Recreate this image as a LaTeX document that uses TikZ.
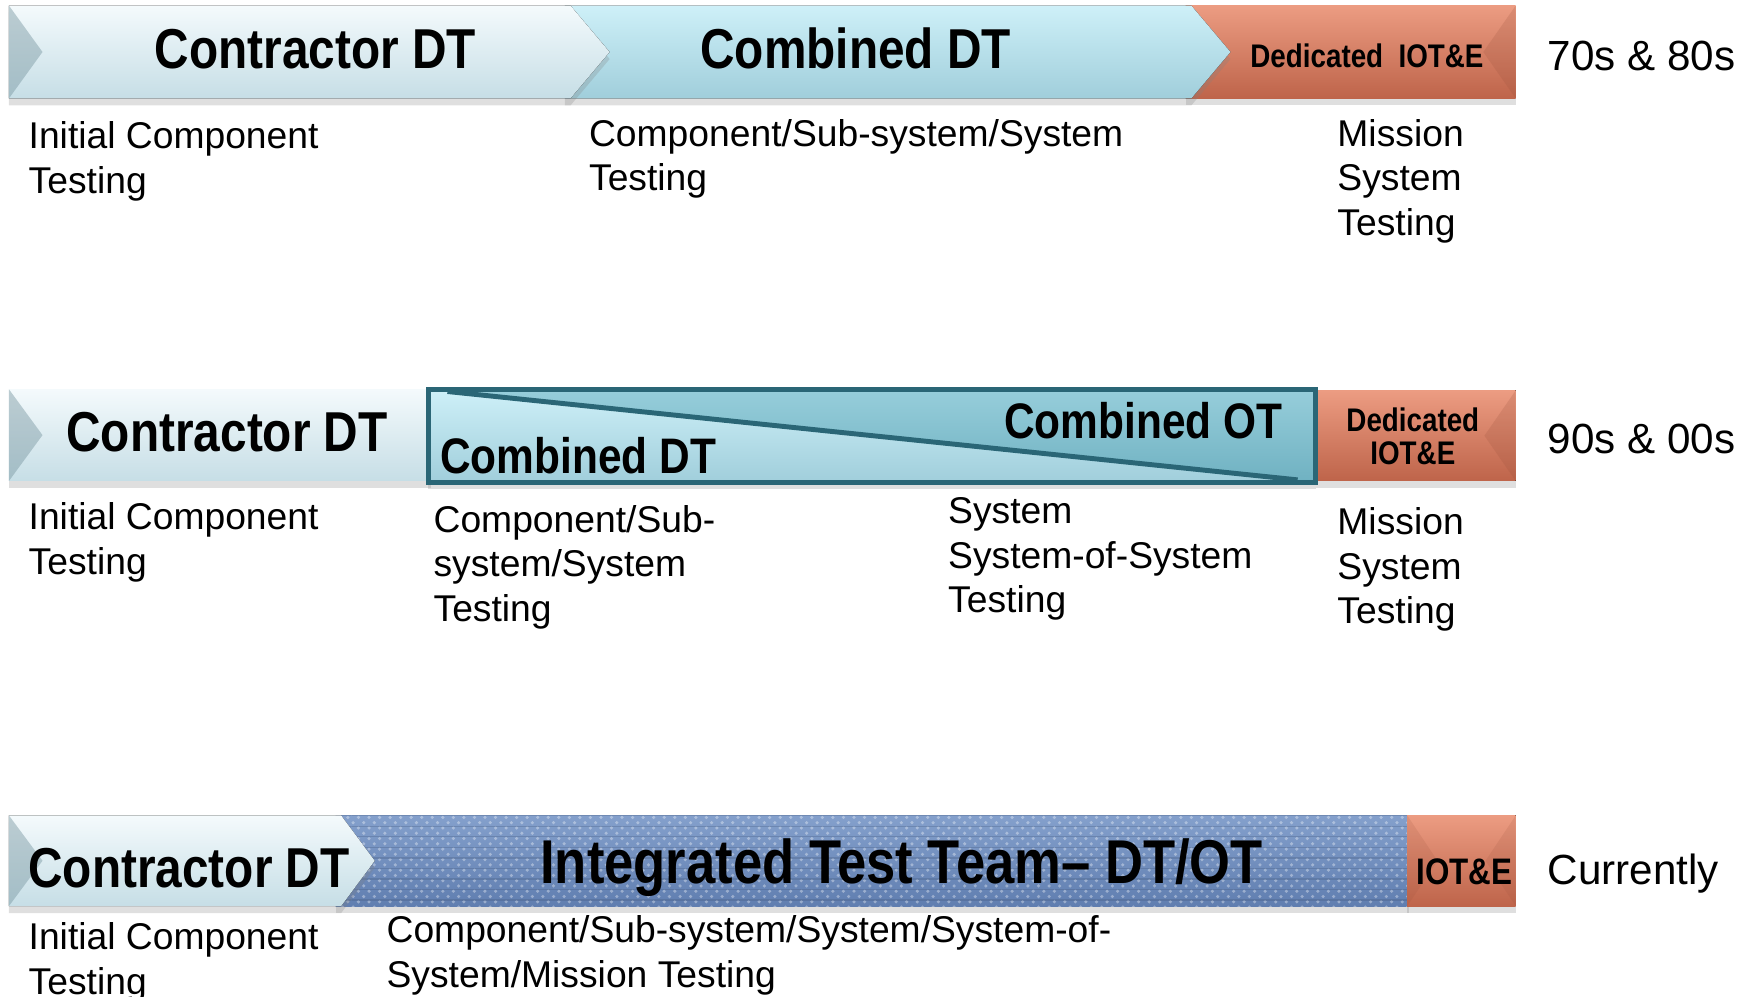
\documentclass[tikz,border=0pt]{standalone}
\usepackage{fontspec}
\setmainfont{Liberation Sans}
\newfontfamily\barfont[FakeStretch=0.85]{Liberation Sans}
\usetikzlibrary{shadows, patterns, positioning}
\definecolor{ctrtop}{RGB}{244,250,252}
\definecolor{ctrbot}{RGB}{198,222,230}
\definecolor{combtop}{RGB}{206,240,248}
\definecolor{combbot}{RGB}{160,206,219}
\definecolor{dedtop}{RGB}{236,156,130}
\definecolor{dedbot}{RGB}{190,100,74}
\definecolor{tealedge}{RGB}{42,102,118}
\definecolor{ottop}{RGB}{150,205,218}
\definecolor{otbot}{RGB}{112,178,194}
\definecolor{inttop}{RGB}{132,160,204}
\definecolor{intbot}{RGB}{96,126,176}
\definecolor{bevel}{RGB}{120,150,160}
\tikzstyle{ctrbar} = [top color=ctrtop, bottom color=ctrbot, drop shadow={shadow xshift=0pt, shadow yshift=-2pt, opacity=.25}]
\tikzstyle{combbar} = [top color=combtop, bottom color=combbot, drop shadow={shadow xshift=0pt, shadow yshift=-2pt, opacity=.25}]
\tikzstyle{dedbar} = [top color=dedtop, bottom color=dedbot, drop shadow={shadow xshift=0pt, shadow yshift=-2pt, opacity=.25}]
\tikzstyle{bartext} = [anchor=base, inner sep=0pt, font=\barfont\bfseries\fontsize{16}{19}\selectfont]
\tikzstyle{combtext} = [inner sep=0pt, font=\barfont\bfseries\fontsize{14.2}{17}\selectfont]
\tikzstyle{dedtext} = [inner sep=0pt, font=\barfont\bfseries\fontsize{9.3}{9.6}\selectfont]
\tikzstyle{note} = [anchor=north west, inner sep=0pt, align=left, font=\fontsize{10.6}{12.7}\selectfont]
\tikzstyle{era} = [anchor=north west, inner sep=0pt, font=\fontsize{12}{14}\selectfont]

\begin{document}
\begin{tikzpicture}[x=0.3183pt, y=-0.3183pt]
\useasboundingbox (0,0) rectangle (1568,891);

% 70s & 80s
\fill[dedbar] (1060,5) rectangle (1355,88);
\fill[dedbot!80!black, opacity=.2] (1355,5) -- (1326,46.5) -- (1355,88) -- cycle;
\fill[combbar] (505,5) -- (1065,5) -- (1100,46.5) -- (1065,88) -- (505,88) -- cycle;
\fill[ctrbar] (8,5) -- (510,5) -- (545,46.5) -- (510,88) -- (8,88) -- cycle;
\fill[bevel, opacity=.45] (8,5) -- (38,46.5) -- (8,88) -- cycle;
\node (ctr1) [bartext] at (282,61) {Contractor DT};
\node (comb1) [bartext] at (765,61) {Combined DT};
\node (ded1) [dedtext, anchor=base] at (1222,60.5) {Dedicated~~IOT\&E};
\node (era1) [era] at (1383,36.5) {70s \& 80s};
\node (init1) [note] at (25,108) {Initial Component\\Testing};
\node (sub1) [note] at (526,106) {Component/Sub-system/System\\Testing};
\node (mis1) [note] at (1195,106) {Mission\\System\\Testing};

% 90s & 00s
\fill[dedbar] (1176,349) rectangle (1355,430);
\fill[dedbot!80!black, opacity=.2] (1355,349) -- (1327,389.5) -- (1355,430) -- cycle;
\fill[ctrbar] (8,348) rectangle (385,430);
\fill[bevel, opacity=.45] (8,348) -- (38,389) -- (8,430) -- cycle;
\fill[top color=combtop, bottom color=combbot, drop shadow={shadow xshift=0pt, shadow yshift=-2pt, opacity=.25}] (383,348) rectangle (1176,431);
\fill[top color=ottop, bottom color=otbot] (400,350) -- (1174,350) -- (1174,429) -- (1160,429) -- cycle;
\draw[tealedge, line width=1.4pt] (400,350) -- (1160,429);
\draw[tealedge, line width=1.4pt] (383,348) rectangle (1176,431);
\node (ctr2) [bartext] at (203,404) {Contractor DT};
\node (cot2) [combtext, anchor=base east] at (1147,392) {Combined OT};
\node (cdt2) [combtext, anchor=base west] at (393,423) {Combined DT};
\node (ded2) [dedtext, align=center] at (1263,390) {Dedicated\\IOT\&E};
\node (era2) [era] at (1383,378.5) {90s \& 00s};
\node (init2) [note] at (25,449) {Initial Component\\Testing};
\node (sub2) [note] at (387,451) {Component/Sub-\\system/System\\Testing};
\node (sos2) [note] at (847,444) {System\\System-of-System\\Testing};
\node (mis2) [note] at (1195,453) {Mission\\System\\Testing};

% Currently
\fill[top color=inttop, bottom color=intbot, drop shadow={shadow xshift=0pt, shadow yshift=-2pt, opacity=.25}] (300,729) rectangle (1260,810);
\fill[pattern=crosshatch dots, pattern color=white, opacity=.35] (300,729) rectangle (1260,810);
\fill[pattern=horizontal lines, pattern color=intbot!70!black, opacity=.3] (300,729) rectangle (1260,810);
\fill[dedbar] (1258,729) rectangle (1355,810);
\fill[dedbot!80!black, opacity=.15] (1258,729) -- (1285,769.5) -- (1258,810) -- cycle;
\fill[dedbot!80!black, opacity=.15] (1355,729) -- (1328,769.5) -- (1355,810) -- cycle;
\fill[ctrbar] (8,729) -- (305,729) -- (335,769.5) -- (305,810) -- (8,810) -- cycle;
\fill[bevel, opacity=.45] (8,729) -- (38,769.5) -- (8,810) -- cycle;
\node (ctr3) [bartext] at (169,793) {Contractor DT};
\node (itt3) [bartext, font=\barfont\bfseries\fontsize{17.6}{21}\selectfont] at (806,790) {Integrated Test Team– DT/OT};
\node (iote3) [dedtext, anchor=base, font=\barfont\bfseries\fontsize{10.5}{12}\selectfont] at (1309,791) {IOT\&E};
\node (era3) [era] at (1383,762.5) {Currently};
\node (init3) [note] at (25,824) {Initial Component\\Testing};
\node (sub3) [note] at (345,818) {Component/Sub-system/System/System-of-\\System/Mission Testing};
\end{tikzpicture}
\end{document}
